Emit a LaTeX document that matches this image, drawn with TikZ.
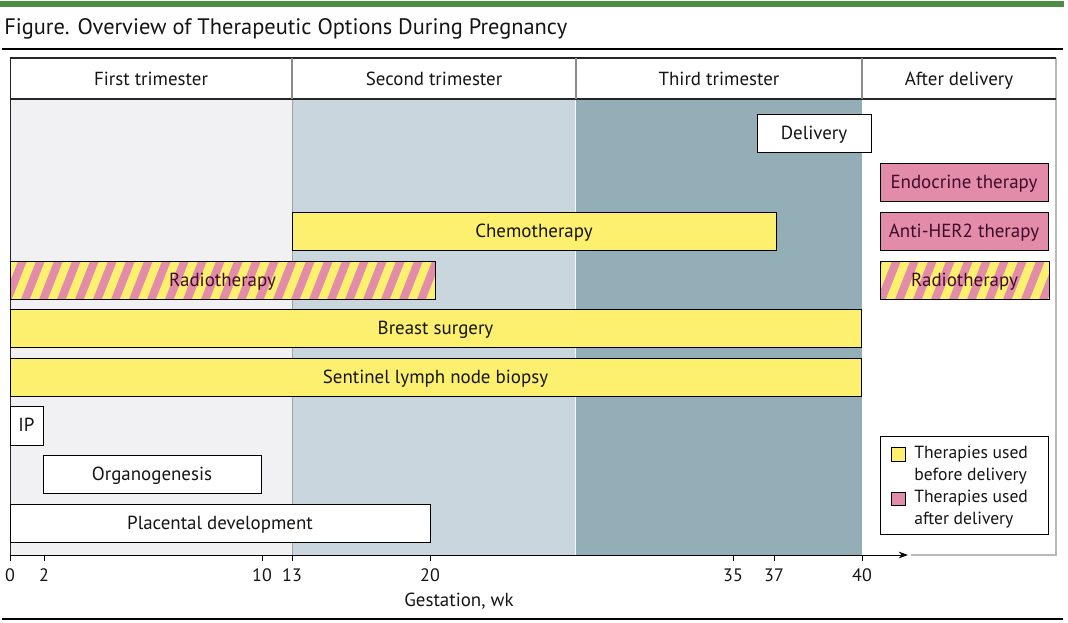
\documentclass[tikz,border=0pt]{standalone}
\usepackage{fontspec}
\setmainfont{PT Sans}
\usetikzlibrary{arrows.meta}
\definecolor{jgreen}{HTML}{4F8C45}
\definecolor{tri1}{HTML}{F1F1F4}
\definecolor{tri2}{HTML}{C9D6DE}
\definecolor{tri3}{HTML}{93AEB7}
\definecolor{byel}{HTML}{FDF06E}
\definecolor{bpink}{HTML}{E38CAA}
\definecolor{ptext}{HTML}{3E0C28}
\definecolor{txt}{HTML}{151515}
\definecolor{divgray}{HTML}{8C8C8C}
\newcommand\bx[7]{\node[#2, minimum width={(#5-#3)*0.75pt}, minimum height={(#6-#4)*0.75pt}] (#1) at ({(#3+#5)/2},{(#4+#6)/2}) {#7};}
\tikzset{
  lbl/.style={font=\fontsize{14.2}{16}\selectfont, text=txt, text height=0.95em, text depth=0em},
  bar/.style={draw=black, line width=0.75pt, inner sep=0pt, outer sep=0pt, lbl},
  ybar/.style={bar, fill=byel},
  pbar/.style={bar, fill=bpink, text=ptext},
  wbar/.style={bar, fill=white},
  sbar/.style={bar, text=ptext},
  hdr/.style={lbl},
  tick/.style={font=\fontsize{13.5}{15}\selectfont, text=txt},
  legtxt/.style={font=\fontsize{13.2}{16.5}\selectfont, text=txt, anchor=west, align=left, inner sep=0pt},
  divline/.style={divgray, line width=1.5pt},
}
\begin{document}
\begin{tikzpicture}[x=0.75pt,y=-0.75pt]
\useasboundingbox (0,0) rectangle (1068,622);
\fill[white] (0,0) rectangle (1068,622);
% top green bar and title
\fill[jgreen] (0,1) rectangle (1064,7);
\node[anchor=west, font=\fontsize{16.8}{19}\selectfont, text=txt, inner sep=0pt] (title) at (4,29) {Figure. Overview of Therapeutic Options During Pregnancy};
\draw[line width=1.5pt] (2,49) -- (1063,49);
\draw[line width=2pt] (2,619) -- (1063,619);
% backgrounds
\fill[tri1] (10,99) rectangle (292,555);
\fill[tri2] (292,99) rectangle (576,555);
\fill[tri3] (576,99) rectangle (862,555);
\draw[divgray!80, line width=0.75pt] (292,99) -- (292,555);
\draw[white!85!tri2, line width=0.75pt] (575,99) -- (575,555);
% frame
\draw[gray!55, line width=1.5pt] (1056,58) -- (1056,555) -- (911,555);
\draw[black!85, line width=1pt] (10,58) -- (1056,58);
\draw[black!85, line width=1pt] (10,99) -- (1056,99);
\draw[black!85, line width=0.75pt] (10,58) -- (10,555);
\draw[divline] (292,58) -- (292,99);
\draw[divline] (576,58) -- (576,99);
\draw[divline] (862,58) -- (862,99);
% headers
\node[hdr] (h1) at (151,79) {First trimester};
\node[hdr] (h2) at (434,79) {Second trimester};
\node[hdr] (h3) at (719,79) {Third trimester};
\node[hdr] (h4) at (959,79) {After delivery};
% bars
\bx{delivery}{wbar}{757}{114}{871}{152}{Delivery}
\bx{endo}{pbar}{880}{163}{1048}{201}{Endocrine therapy}
\bx{her2}{pbar}{880}{212}{1048}{250}{Anti-HER2 therapy}
\bx{chemo}{ybar}{292}{212}{776}{250}{Chemotherapy}
% striped radiotherapy bars
\begin{scope}
\clip (10,261) rectangle (435,299);
\fill[bpink] (10,261) rectangle (435,299);
\foreach \i in {0,...,26} \fill[byel] ({10+\i*18-16},299) -- ++(9,0) -- ++(15,-38) -- ++(-9,0) -- cycle;
\end{scope}
\bx{radio1}{sbar}{10}{261}{435}{299}{Radiotherapy}
\begin{scope}
\clip (880,261) rectangle (1049,299);
\fill[bpink] (880,261) rectangle (1049,299);
\foreach \i in {0,...,11} \fill[byel] ({880+\i*18-12},299) -- ++(9,0) -- ++(15,-38) -- ++(-9,0) -- cycle;
\end{scope}
\bx{radio2}{sbar}{880}{261}{1049}{299}{Radiotherapy}
\bx{surgery}{ybar}{10}{309}{861}{347}{Breast surgery}
\bx{slnb}{ybar}{10}{358}{861}{396}{Sentinel lymph node biopsy}
\bx{ip}{wbar}{10}{406}{43}{445}{IP}
\bx{organo}{wbar}{43}{455}{261}{493}{Organogenesis}
\bx{placenta}{wbar}{10}{504}{430}{542}{Placental development}
% legend
\bx{legend}{wbar}{880}{436}{1048}{534}{}
\bx{lgy}{bar}{891}{447}{905}{461}{}
\fill[byel] (lgy.south west) rectangle (lgy.north east);
\draw[line width=0.75pt] (lgy.south west) rectangle (lgy.north east);
\bx{lgp}{bar}{891}{492}{905}{505}{}
\fill[bpink] (lgp.south west) rectangle (lgp.north east);
\draw[line width=0.75pt] (lgp.south west) rectangle (lgp.north east);
\node[legtxt] (lgyt) at (914,465) {Therapies used\\before delivery};
\node[legtxt] (lgpt) at (914,509) {Therapies used\\after delivery};
% axis
\coordinate (ax0) at (10,555);
\coordinate (axend) at (908,555);
\draw[line width=0.75pt, -{Stealth[length=7pt,width=5pt]}] (ax0) -- (axend);
\foreach \x/\l in {10/0, 44/2, 262/10, 292/13, 430/20, 733/35, 774/37, 862/40} {
  \draw[line width=0.75pt] (\x,555) -- (\x,561);
  \node[tick] (t\l) at (\x,575) {\l};
}
\node[lbl] (xlabel) at (459,600) {Gestation, wk};
\end{tikzpicture}
\end{document}
